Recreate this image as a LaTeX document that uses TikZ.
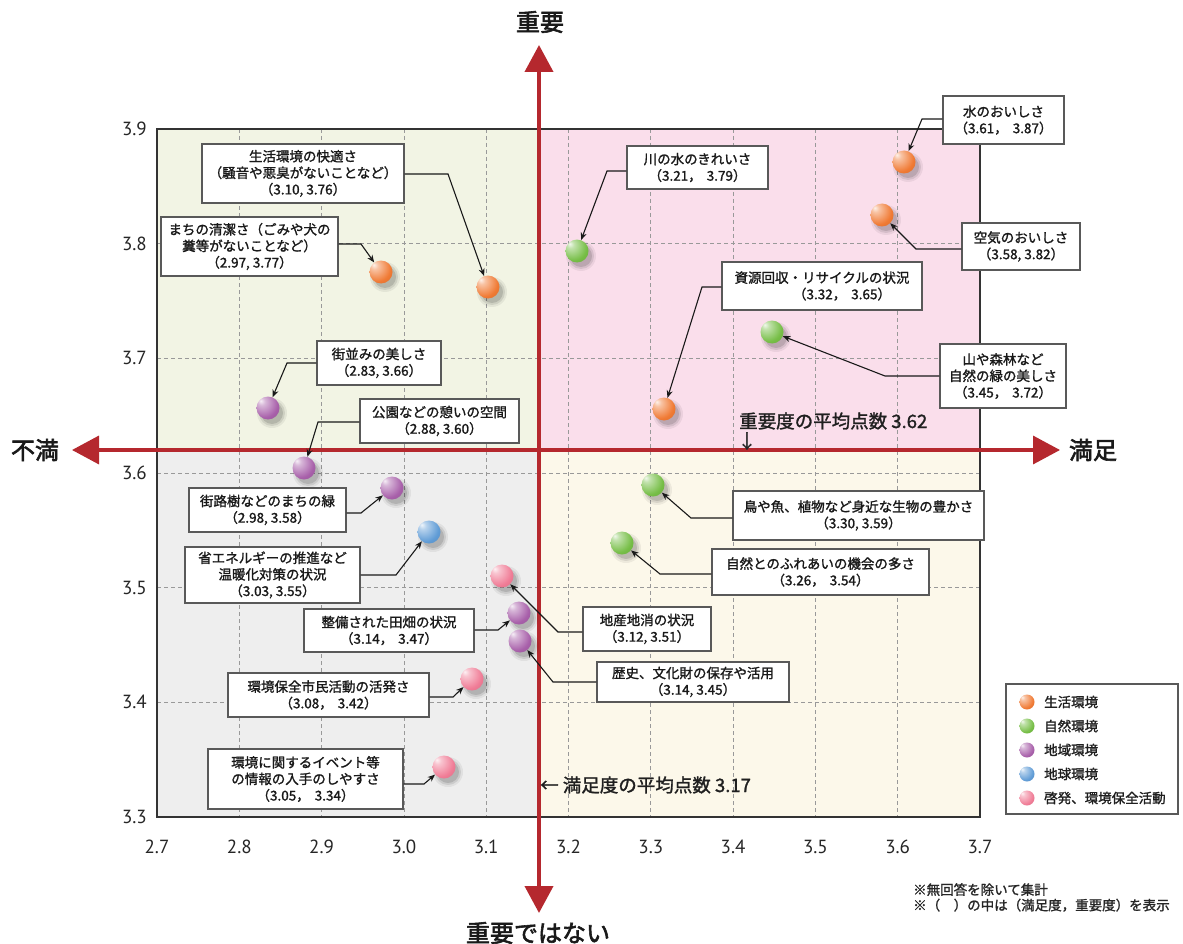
\documentclass[tikz,border=0pt]{standalone}
\usepackage{fontspec}
\setmainfont{Noto Sans CJK JP}[FakeBold=1.4]
\newfontfamily\boldjp{Noto Sans CJK JP}[FakeBold=2.4]
\newfontfamily\tickfont{PT Sans}
\usetikzlibrary{arrows.meta}
\definecolor{redax}{RGB}{181,40,46}
\definecolor{qtl}{RGB}{242,244,228}
\definecolor{qtr}{RGB}{250,222,235}
\definecolor{qbl}{RGB}{238,238,238}
\definecolor{qbr}{RGB}{252,248,234}
\definecolor{cOr}{RGB}{240,122,52}
\definecolor{cGr}{RGB}{118,190,70}
\definecolor{cPu}{RGB}{168,96,170}
\definecolor{cBl}{RGB}{96,156,214}
\definecolor{cPk}{RGB}{240,124,150}
\colorlet{ballc}{cOr}
\pgfdeclareradialshading[ballc]{myball}{\pgfpoint{-16bp}{16bp}}{%
  color(0bp)=(ballc!10!white); color(8bp)=(ballc!45!white);
  color(30bp)=(ballc); color(55bp)=(ballc!82!black); color(72bp)=(ballc!70!black)}
\tikzset{
  lbl/.style={draw=black!65, line width=1.1pt, fill=white, align=center,
    inner sep=0pt, font=\fontsize{13.5}{16.5}\selectfont, text=black!90},
  conn/.style={draw=black!90, line width=1.1pt, -{Stealth[length=7.5pt,width=6pt]}},
  ballcol/.code={\colorlet{ballc}{#1}},
  dotn/.style={circle, minimum size=23pt, inner sep=0pt, ballcol=#1, shading=myball},
  legdot/.style={circle, minimum size=15pt, inner sep=0pt, ballcol=#1, shading=myball},
  gridl/.style={draw=black!40, line width=0.7pt, dash pattern=on 4pt off 3pt},
  tick/.style={font=\tickfont\fontsize{19}{19}\selectfont, text=black!85, inner sep=0pt},
  axlab/.style={font=\boldjp\fontsize{24}{24}\selectfont, text=black!90, inner sep=0pt},
  redline/.style={draw=redax, {Triangle[length=27pt,width=28pt]}-{Triangle[length=27pt,width=28pt]}},
  meanlab/.style={font=\fontsize{18.5}{18.5}\selectfont, text=black!88, inner sep=0pt},
}
\newcommand\cm{，\hspace{5pt}}
\newcommand\balldot[4]{%
  \foreach \r/\o in {15/0.06,13/0.09,11/0.12}{\fill[black,opacity=\o] ({#2+4},{#3+5}) circle (\r);}
  \node[dotn=#4] (#1) at (#2,#3) {};}
\newcommand\lbox[6]{%
  \node[lbl, minimum width={#4-#2}, minimum height={#5-#3}] (#1) at ({(#2+#4)/2},{(#3+#5)/2}) {#6};}
\begin{document}
\begin{tikzpicture}[x=1pt,y=-1pt]
\useasboundingbox (0,0) rectangle (1183,944);
\fill[white] (0,0) rectangle (1183,944);
% quadrants
\fill[qtl] (157,129) rectangle (539,450);
\fill[qtr] (539,129) rectangle (980,450);
\fill[qbl] (157,450) rectangle (539,817);
\fill[qbr] (539,450) rectangle (980,817);
% grid
\foreach \i in {1,...,9} \draw[gridl] ({157+82.3*\i},129) -- ({157+82.3*\i},817);
\foreach \i in {1,...,5} \draw[gridl] (157,{129+114.67*\i}) -- (980,{129+114.67*\i});
\draw[black!80, line width=2pt] (157,129) rectangle (980,817);
% ticks
\foreach \v [count=\i from 0] in {3.9,3.8,3.7,3.6,3.5,3.4,3.3}
  \node[tick, anchor=east] (yt\i) at (147,{129+114.67*\i}) {\v};
\foreach \v [count=\i from 0] in {2.7,2.8,2.9,3.0,3.1,3.2,3.3,3.4,3.5,3.6,3.7}
  \node[tick] (xt\i) at ({157+82.3*\i},847) {\v};
% red axes
\draw[redline, line width=4pt] (539,913) -- (539,45);
\draw[redline, line width=3.5pt] (72,450) -- (1060,450);
\node[axlab] (top) at (540,22) {重要};
\node[axlab] (bot) at (538,933) {重要ではない};
\node[axlab] (lft) at (35,450) {不満};
\node[axlab] (rgt) at (1093,450) {満足};
\node[meanlab, anchor=west] (m1) at (739,421) {重要度の平均点数 3.62};
\node[font=\fontsize{19}{19}\selectfont, inner sep=0pt, text=black!85] (m1a) at (747,441) {↓};
\node[meanlab, anchor=west] (m2) at (540,785) {← 満足度の平均点数 3.17};
% dots
\balldot{d1}{488}{287}{cOr}
\balldot{d2}{381}{272}{cOr}
\balldot{d3}{268}{408}{cPu}
\balldot{d4}{304}{468}{cPu}
\balldot{d5}{392}{488}{cPu}
\balldot{d6}{429}{532}{cBl}
\balldot{d7}{519}{613}{cPu}
\balldot{d8}{472}{679}{cPk}
\balldot{d9}{444}{767}{cPk}
\balldot{d10}{653}{485}{cGr}
\balldot{d11}{622}{543}{cGr}
\balldot{d12}{502}{576}{cPk}
\balldot{d13}{520}{641}{cPu}
\balldot{d14}{577}{251}{cGr}
\balldot{d15}{664}{409}{cOr}
\balldot{d16}{904}{162}{cOr}
\balldot{d17}{882}{215}{cOr}
\balldot{d18}{772}{332}{cGr}
% bend points
\coordinate (k1) at (448,174);
\coordinate (k2) at (361,244);
\coordinate (k3) at (287,363);
\coordinate (k4) at (318,422);
\coordinate (k5) at (361,513);
\coordinate (k6) at (396,575);
\coordinate (k7) at (498,630);
\coordinate (k8) at (453,697);
\coordinate (k9) at (424,784);
\coordinate (k10) at (691,518);
\coordinate (k11) at (660,574);
\coordinate (k12) at (558,632);
\coordinate (k13) at (553,682);
\coordinate (k14) at (607,171);
\coordinate (k15) at (702,287);
\coordinate (k16) at (922,119);
\coordinate (k17) at (916,249);
\coordinate (k18) at (885,376);
% boxes
\lbox{b1}{202}{144}{404}{203}{生活環境の快適さ\\（騒音や悪臭がないことなど）\\（3.10, 3.76）}
\lbox{b2}{161}{217}{338}{276}{まちの清潔さ（ごみや犬の\\糞等がないことなど）\\（2.97, 3.77）}
\lbox{b3}{317}{341}{441}{385}{街並みの美しさ\\（2.83, 3.66）}
\lbox{b4}{360}{399}{519}{443}{公園などの憩いの空間\\（2.88, 3.60）}
\lbox{b5}{189}{488}{346}{532}{街路樹などのまちの緑\\（2.98, 3.58）}
\lbox{b6}{185}{547}{360}{603}{省エネルギーの推進など\\温暖化対策の状況\\（3.03, 3.55）}
\lbox{b7}{304}{609}{474}{652}{整備された田畑の状況\\（3.14\cm 3.47）}
\lbox{b8}{228}{673}{429}{717}{環境保全市民活動の活発さ\\（3.08\cm 3.42）}
\lbox{b9}{208}{749}{403}{809}{環境に関するイベント等\\の情報の入手のしやすさ\\（3.05\cm 3.34）}
\lbox{b10}{733}{491}{984}{540}{鳥や魚、植物など身近な生物の豊かさ\\（3.30, 3.59）}
\lbox{b11}{712}{549}{929}{595}{自然とのふれあいの機会の多さ\\（3.26\cm 3.54）}
\lbox{b12}{583}{607}{711}{651}{地産地消の状況\\（3.12, 3.51）}
\lbox{b13}{597}{662}{789}{702}{歴史、文化財の保存や活用\\（3.14, 3.45）}
\lbox{b14}{627}{146}{768}{189}{川の水のきれいさ\\（3.21\cm 3.79）}
\lbox{b15}{722}{262}{922}{310}{資源回収・リサイクルの状況\\\hspace*{40pt}（3.32\cm 3.65）}
\lbox{b16}{943}{96}{1064}{144}{水のおいしさ\\（3.61\cm 3.87）}
\lbox{b17}{962}{223}{1080}{270}{空気のおいしさ\\（3.58, 3.82）}
\lbox{b18}{940}{344}{1066}{408}{山や森林など\\自然の緑の美しさ\\（3.45\cm 3.72）}
% connectors
\foreach \n in {1,2,5,6,7,8,9} \draw[conn] (b\n.east |- k\n) -- (k\n) -- (d\n);
\foreach \n in {3,4,10,11,12,13,14,15,16,17,18} \draw[conn] (b\n.west |- k\n) -- (k\n) -- (d\n);
% legend
\node[draw=black!65, line width=1.1pt, fill=white, minimum width=172pt, minimum height=130pt, inner sep=0pt] (leg) at (1092,749) {};
\foreach \c/\t [count=\i from 0] in {cOr/生活環境,cGr/自然環境,cPu/地域環境,cBl/地球環境,cPk/啓発、環境保全活動}{
  \node[legdot=\c] (ld\i) at (1027,{702+24*\i}) {};
  \node[anchor=west, inner sep=0pt, font=\fontsize{13.5}{13.5}\selectfont, text=black!88] (lt\i) at (1044,{702+24*\i}) {\t};
}
% footnote
\node[anchor=north west, align=left, inner sep=0pt, font=\fontsize{13.5}{15.5}\selectfont, text=black!85] (fn) at (913,883) {※無回答を除いて集計\\※（　）の中は（満足度，重要度）を表示};
\end{tikzpicture}
\end{document}
